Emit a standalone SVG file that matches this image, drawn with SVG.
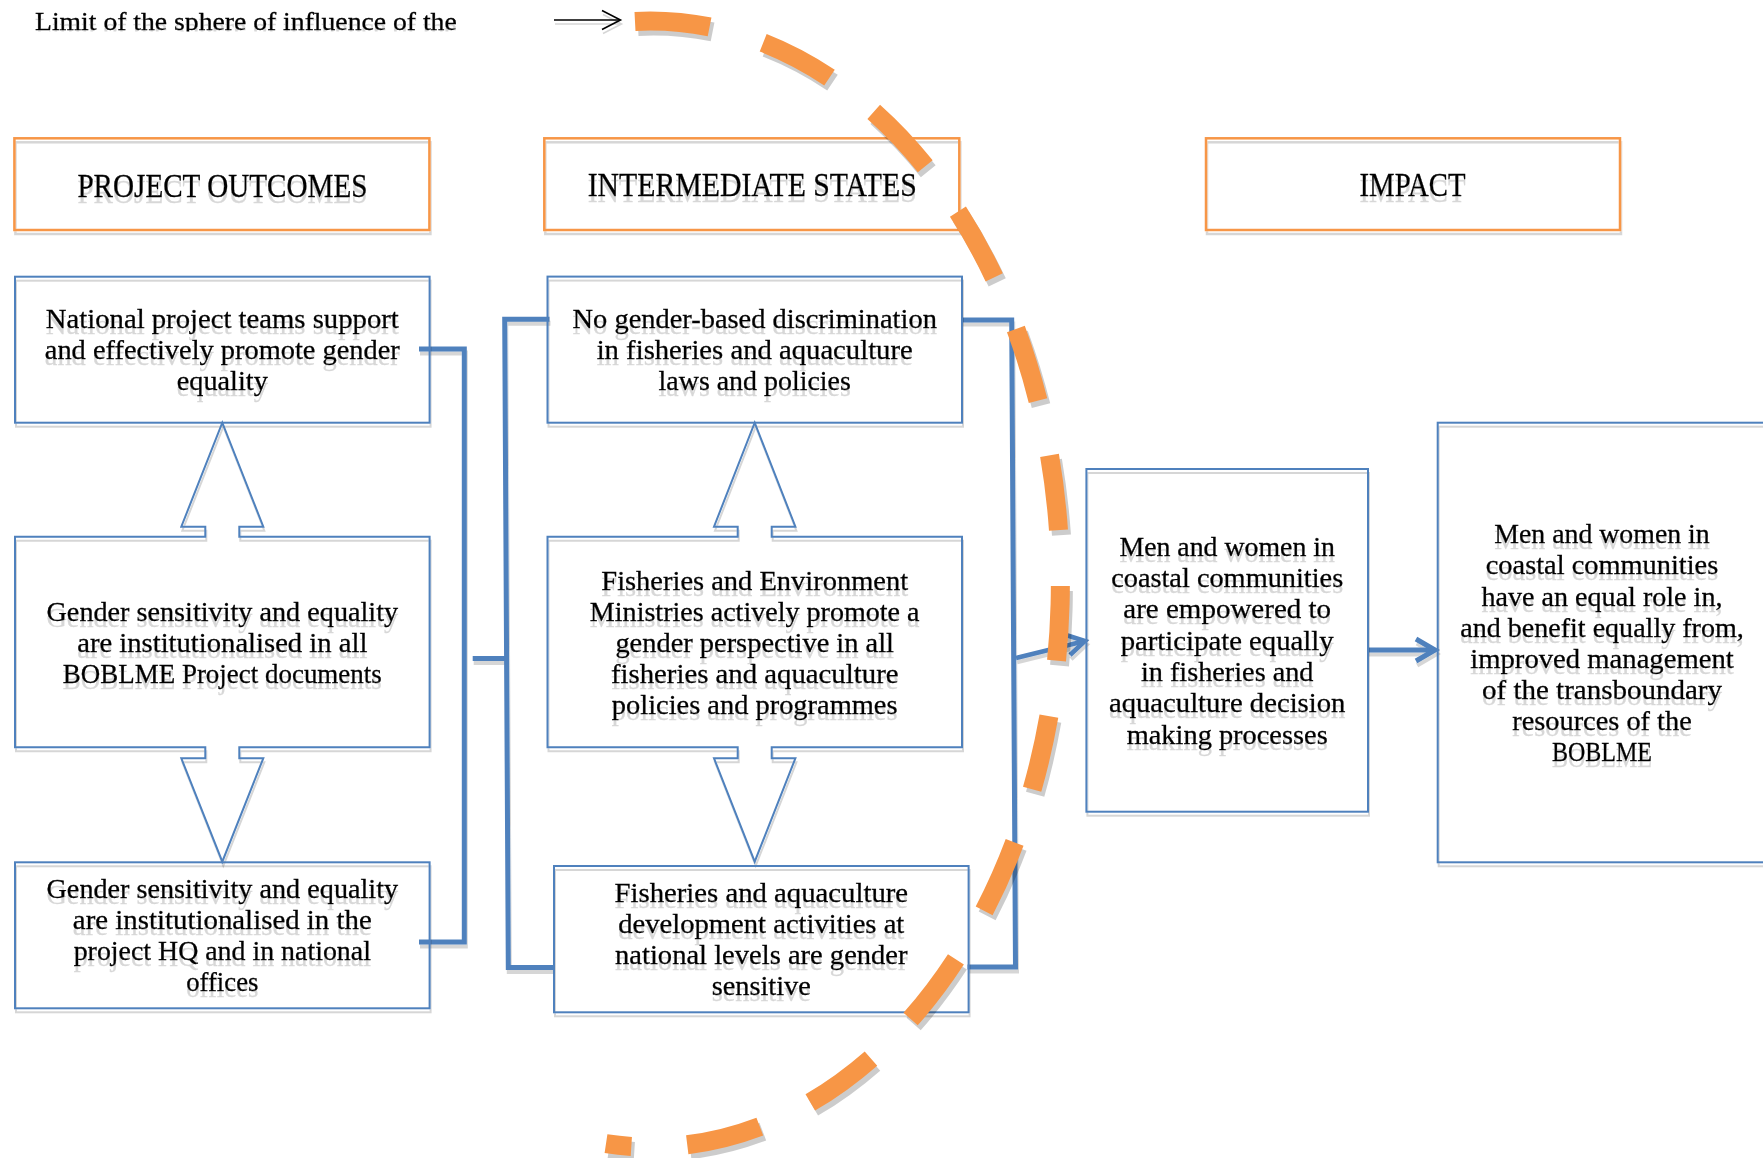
<svg xmlns="http://www.w3.org/2000/svg" width="1763" height="1158" viewBox="0 0 1763 1158">
<style>
.t{font-family:"Liberation Serif","Times New Roman",serif;font-size:27px;fill:#000;stroke:#000;stroke-width:0.3;text-anchor:middle}
.h{font-family:"Liberation Serif","Times New Roman",serif;font-size:33px;fill:#000;stroke:#000;stroke-width:0.3;text-anchor:middle}
.ob{fill:none;stroke:#f79646;stroke-width:2.5}
.bb{fill:none;stroke:#4f81bd;stroke-width:2}
.cn{fill:none;stroke:#4f81bd;stroke-width:5;stroke-linejoin:miter}
.ar{fill:none;stroke:#4f81bd;stroke-width:4.5;stroke-linejoin:miter}
</style>
<defs>
<filter id="sh" x="-5%" y="-5%" width="110%" height="115%">
<feOffset in="SourceAlpha" dx="1" dy="4" result="o"/>
<feFlood flood-color="#000" flood-opacity="0.16"/>
<feComposite in2="o" operator="in" result="s"/>
<feMerge><feMergeNode in="s"/><feMergeNode in="SourceGraphic"/></feMerge>
</filter>
<filter id="tr" x="-5%" y="-20%" width="110%" height="160%">
<feOffset in="SourceAlpha" dy="6" result="o"/>
<feFlood flood-color="#8a8a8a" flood-opacity="0.35"/>
<feComposite in2="o" operator="in" result="s"/>
<feMerge><feMergeNode in="s"/><feMergeNode in="SourceGraphic"/></feMerge>
</filter>
<clipPath id="ct"><rect x="0" y="0" width="600" height="31.5"/></clipPath>
</defs>
<rect width="1763" height="1158" fill="#fff"/>

<g id="title">
<text class="t" style="text-anchor:start;font-size:25px" x="35" y="29.5" textLength="421.7" lengthAdjust="spacingAndGlyphs" clip-path="url(#ct)" filter="url(#tr)">Limit of the sphere of influence of the</text>
</g>

<g id="h-outcomes">
<rect class="ob" x="14.4" y="138.3" width="415" height="91.7" filter="url(#sh)"/>
<text class="h" x="222.4" y="196.5" textLength="290" lengthAdjust="spacingAndGlyphs" filter="url(#tr)">PROJECT OUTCOMES</text>
</g>
<g id="h-intermediate">
<rect class="ob" x="544.3" y="138.3" width="415" height="91.7" filter="url(#sh)"/>
<text class="h" x="752.2" y="196" textLength="329" lengthAdjust="spacingAndGlyphs" filter="url(#tr)">INTERMEDIATE STATES</text>
</g>
<g id="h-impact">
<rect class="ob" x="1206" y="138.3" width="414" height="91.7" filter="url(#sh)"/>
<text class="h" x="1412.5" y="196" textLength="106" lengthAdjust="spacingAndGlyphs" filter="url(#tr)">IMPACT</text>
</g>

<g id="connectors" filter="url(#sh)">
<polyline class="cn" points="419,349 464.3,349 464.3,942 419,942"/>
<line class="cn" x1="472.7" y1="658.5" x2="506.5" y2="658.5"/>
<polyline class="cn" points="549.5,319.2 504.7,319.2 508.3,967.4 554,967.4"/>
<polyline class="cn" points="961,320 1011.7,320 1015.5,967 967.5,967"/>
<line class="ar" x1="1016" y1="658" x2="1083" y2="641.5"/>
<polyline class="ar" points="1066,635 1085,641 1070,655"/>
<line class="cn" x1="1368" y1="650" x2="1434" y2="650"/>
<polyline class="cn" points="1416,639 1435,650 1416,661"/>
<line x1="554" y1="20" x2="620" y2="20" stroke="#000" stroke-width="1.6"/>
<polyline points="602,10.5 620.5,20 602,29.5" fill="none" stroke="#000" stroke-width="1.6"/>
</g>

<g id="a1">
<rect class="bb" x="15" y="276.7" width="414.6" height="146" filter="url(#sh)"/>
<g filter="url(#tr)">
<text class="t" x="222.3" y="328.3" textLength="353" lengthAdjust="spacingAndGlyphs">National project teams support</text>
<text class="t" x="222.3" y="359.3" textLength="355" lengthAdjust="spacingAndGlyphs">and effectively promote gender</text>
<text class="t" x="222.3" y="390.3" textLength="91" lengthAdjust="spacingAndGlyphs">equality</text>
</g>
</g>

<g id="a2">
<path class="bb" filter="url(#sh)" d="M15,536.7 H205.3 V526.7 H181.3 L222.3,422.7 L263.3,526.7 H239.3 V536.7 H429.6 V747.3 H239.3 V758.3 H263.3 L222.3,861.7 L181.3,758.3 H205.3 V747.3 H15 Z"/>
<g filter="url(#tr)">
<text class="t" x="222.3" y="621.2" textLength="351.6" lengthAdjust="spacingAndGlyphs">Gender sensitivity and equality</text>
<text class="t" x="222.3" y="651.9" textLength="290.2" lengthAdjust="spacingAndGlyphs">are institutionalised in all</text>
<text class="t" x="222.3" y="682.6" textLength="318.9" lengthAdjust="spacingAndGlyphs">BOBLME Project documents</text>
</g>
</g>

<g id="a3">
<rect class="bb" x="15" y="862.3" width="414.6" height="146" filter="url(#sh)"/>
<g filter="url(#tr)">
<text class="t" x="222.3" y="897.7" textLength="351.6" lengthAdjust="spacingAndGlyphs">Gender sensitivity and equality</text>
<text class="t" x="222.3" y="928.7" textLength="298.9" lengthAdjust="spacingAndGlyphs">are institutionalised in the</text>
<text class="t" x="222.3" y="959.7" textLength="297.2" lengthAdjust="spacingAndGlyphs">project HQ and in national</text>
<text class="t" x="222.3" y="990.7" textLength="72.2" lengthAdjust="spacingAndGlyphs">offices</text>
</g>
</g>

<g id="b1">
<rect class="bb" x="547.5" y="276.6" width="414.5" height="146.1" filter="url(#sh)"/>
<g filter="url(#tr)">
<text class="t" x="754.7" y="328.3" textLength="364.3" lengthAdjust="spacingAndGlyphs">No gender-based discrimination</text>
<text class="t" x="754.7" y="359.3" textLength="316.1" lengthAdjust="spacingAndGlyphs">in fisheries and aquaculture</text>
<text class="t" x="754.7" y="390.3" textLength="192.2" lengthAdjust="spacingAndGlyphs">laws and policies</text>
</g>
</g>

<g id="b2">
<path class="bb" filter="url(#sh)" d="M547.5,536.7 H737.7 V526.7 H714 L754.7,422.7 L795.4,526.7 H771.7 V536.7 H962 V747.3 H771.7 V758.3 H795.4 L754.7,861.7 L714,758.3 H737.7 V747.3 H547.5 Z"/>
<g filter="url(#tr)">
<text class="t" x="754.7" y="590" textLength="306.8" lengthAdjust="spacingAndGlyphs">Fisheries and Environment</text>
<text class="t" x="754.7" y="621" textLength="329.7" lengthAdjust="spacingAndGlyphs">Ministries actively promote a</text>
<text class="t" x="754.7" y="652" textLength="278.6" lengthAdjust="spacingAndGlyphs">gender perspective in all</text>
<text class="t" x="754.7" y="683" textLength="287.6" lengthAdjust="spacingAndGlyphs">fisheries and aquaculture</text>
<text class="t" x="754.7" y="714" textLength="285.7" lengthAdjust="spacingAndGlyphs">policies and programmes</text>
</g>
</g>

<g id="b3">
<rect class="bb" x="554" y="866" width="414.6" height="146.3" filter="url(#sh)"/>
<g filter="url(#tr)">
<text class="t" x="761.3" y="902.3" textLength="293.6" lengthAdjust="spacingAndGlyphs">Fisheries and aquaculture</text>
<text class="t" x="761.3" y="933.1" textLength="286" lengthAdjust="spacingAndGlyphs">development activities at</text>
<text class="t" x="761.3" y="963.9" textLength="292.5" lengthAdjust="spacingAndGlyphs">national levels are gender</text>
<text class="t" x="761.3" y="994.7" textLength="99.2" lengthAdjust="spacingAndGlyphs">sensitive</text>
</g>
</g>

<g id="c1">
<rect class="bb" x="1086.4" y="469" width="281.6" height="342.7" filter="url(#sh)"/>
<g filter="url(#tr)">
<text class="t" x="1227.2" y="555.7" textLength="215.5" lengthAdjust="spacingAndGlyphs">Men and women in</text>
<text class="t" x="1227.2" y="587" textLength="232" lengthAdjust="spacingAndGlyphs">coastal communities</text>
<text class="t" x="1227.2" y="618.3" textLength="207.8" lengthAdjust="spacingAndGlyphs">are empowered to</text>
<text class="t" x="1227.2" y="649.6" textLength="213" lengthAdjust="spacingAndGlyphs">participate equally</text>
<text class="t" x="1227.2" y="680.9" textLength="172.6" lengthAdjust="spacingAndGlyphs">in fisheries and</text>
<text class="t" x="1227.2" y="712.2" textLength="236.5" lengthAdjust="spacingAndGlyphs">aquaculture decision</text>
<text class="t" x="1227.2" y="743.5" textLength="201" lengthAdjust="spacingAndGlyphs">making processes</text>
</g>
</g>

<g id="c2">
<rect class="bb" x="1437.7" y="422.7" width="328.6" height="439.6" filter="url(#sh)"/>
<g filter="url(#tr)">
<text class="t" x="1602" y="543.3" textLength="215.5" lengthAdjust="spacingAndGlyphs">Men and women in</text>
<text class="t" x="1602" y="574.4" textLength="232.5" lengthAdjust="spacingAndGlyphs">coastal communities</text>
<text class="t" x="1602" y="605.5" textLength="240.9" lengthAdjust="spacingAndGlyphs">have an equal role in,</text>
<text class="t" x="1602" y="636.7" textLength="283.5" lengthAdjust="spacingAndGlyphs">and benefit equally from,</text>
<text class="t" x="1602" y="667.9" textLength="263.5" lengthAdjust="spacingAndGlyphs">improved management</text>
<text class="t" x="1602" y="699.1" textLength="240" lengthAdjust="spacingAndGlyphs">of the transboundary</text>
<text class="t" x="1602" y="730.3" textLength="179.6" lengthAdjust="spacingAndGlyphs">resources of the</text>
<text class="t" x="1602" y="761.3" textLength="100" lengthAdjust="spacingAndGlyphs">BOBLME</text>
</g>
</g>

<g id="sphere-limit">
<path d="M635,21.4 A410,563 0 1,1 606,1143.7" fill="none" stroke="#000" stroke-opacity="0.2" stroke-width="19" stroke-dasharray="75 56" transform="translate(3,5)"/>
<path d="M635,21.4 A410,563 0 1,1 606,1143.7" fill="none" stroke="#f79646" stroke-width="19" stroke-dasharray="75 56"/>
</g>
</svg>
